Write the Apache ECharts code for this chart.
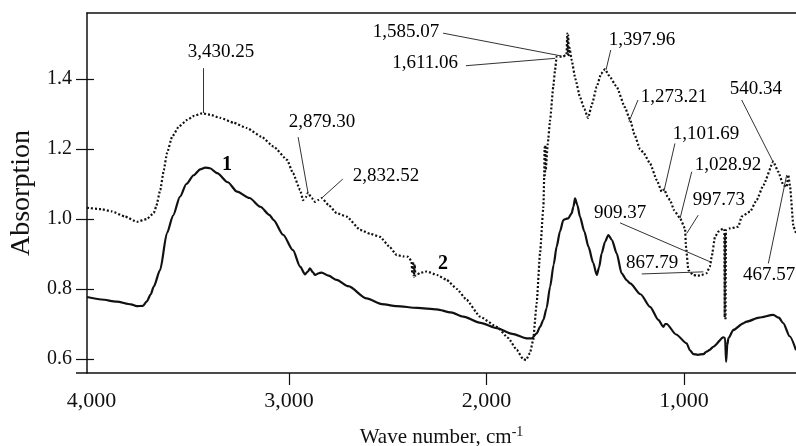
<!DOCTYPE html>
<html>
<head>
<meta charset="utf-8">
<script src="https://cdn.jsdelivr.net/npm/echarts@6/dist/echarts.min.js"></script>
<style>html,body{margin:0;padding:0;background:#fff;}#c{width:796px;height:446px;}</style>
</head>
<body>
<div id="c"></div>
<script>
// ---- data ----
const waveSolid = [4023,3950,3873,3800,3771,3740,3720,3700,3685,3653,3618,3587,3552,3520,3483,3450,3424,3400,3364,3310,3263,3200,3145,3100,3078,3030,2980,2944,2919,2905,2894,2880,2868,2850,2835,2800,2759,2700,2607,2530,2455,2350,2252,2180,2118,2030,1948,1870,1797,1771,1746,1729,1712,1696,1678,1660,1645,1628,1611,1600,1586,1569,1560,1552,1540,1527,1505,1484,1460,1442,1430,1417,1400,1383,1365,1341,1316,1290,1273,1220,1172,1130,1105,1095,1088,1040,987,970,953,930,902,886,870,852,801,792,787,781,775,750,700,683,620,548,520,497,465,433];
const absSolid = [0.777,0.770,0.764,0.756,0.751,0.752,0.765,0.785,0.807,0.854,0.960,1.010,1.064,1.100,1.125,1.142,1.147,1.145,1.131,1.105,1.078,1.060,1.035,1.012,0.997,0.955,0.911,0.864,0.842,0.850,0.859,0.848,0.840,0.845,0.847,0.838,0.826,0.808,0.773,0.757,0.751,0.746,0.742,0.733,0.721,0.703,0.688,0.672,0.659,0.659,0.673,0.692,0.712,0.745,0.807,0.870,0.921,0.965,0.997,1.000,1.002,1.016,1.035,1.059,1.040,1.007,0.965,0.921,0.875,0.840,0.862,0.902,0.935,0.954,0.940,0.902,0.845,0.825,0.816,0.785,0.749,0.712,0.692,0.700,0.700,0.670,0.645,0.625,0.614,0.612,0.614,0.621,0.626,0.635,0.662,0.660,0.592,0.640,0.660,0.683,0.702,0.707,0.718,0.726,0.718,0.702,0.665,0.625];

const waveDotted = [4023,3950,3900,3830,3770,3720,3685,3673,3652,3634,3618,3592,3558,3516,3480,3440,3400,3349,3280,3213,3140,3078,3010,2980,2944,2929,2915,2904,2885,2868,2850,2834,2800,2759,2708,2640,2590,2539,2490,2455,2420,2397,2380,2376,2372,2368,2364,2360,2350,2337,2303,2250,2202,2150,2101,2033,1948,1890,1847,1815,1800,1780,1764,1746,1729,1712,1708,1706,1704,1702,1700,1690,1678,1662,1653,1645,1630,1613,1595,1591,1588,1586,1584,1580,1569,1550,1527,1505,1486,1465,1442,1420,1400,1380,1341,1300,1273,1250,1223,1206,1172,1138,1113,1100,1085,1071,1050,1020,995,990,978,953,930,911,886,869,860,843,826,801,796,794,792,790,788,767,725,708,666,632,598,548,523,497,480,472,463,446,433];
const absDotted = [1.032,1.028,1.022,1.007,0.992,1.000,1.017,1.035,1.083,1.140,1.188,1.235,1.264,1.283,1.295,1.302,1.298,1.289,1.275,1.260,1.235,1.207,1.169,1.131,1.083,1.054,1.062,1.075,1.060,1.049,1.055,1.060,1.040,1.017,1.007,0.969,0.958,0.949,0.920,0.897,0.893,0.892,0.880,0.845,0.878,0.835,0.870,0.838,0.842,0.846,0.850,0.840,0.826,0.800,0.769,0.721,0.692,0.660,0.626,0.600,0.597,0.617,0.654,0.760,0.903,1.035,1.120,1.205,1.125,1.210,1.140,1.215,1.283,1.378,1.426,1.464,1.464,1.464,1.470,1.530,1.470,1.525,1.468,1.490,1.454,1.400,1.349,1.315,1.289,1.330,1.378,1.415,1.428,1.410,1.378,1.320,1.283,1.240,1.200,1.190,1.159,1.111,1.078,1.085,1.065,1.054,1.025,1.002,0.973,0.921,0.854,0.840,0.838,0.840,0.845,0.864,0.892,0.949,0.964,0.973,0.970,0.720,0.960,0.711,0.968,0.973,0.978,1.007,1.021,1.054,1.097,1.164,1.135,1.097,1.092,1.126,1.092,0.978,0.960];

const xTickValues = [1000, 2000, 3000];
const xLabelValues = [1000, 2000, 3000, 4000];
const yTickValues = [0.6, 0.8, 1.0, 1.2, 1.4];

// peak annotations (text, label position, leader start, leader end) in data units
const annoTexts = ['3,430.25','1,585.07','1,611.06','2,879.30','2,832.52','1,397.96','1,273.21','540.34','1,101.69','1,028.92','997.73','909.37','867.79','467.57'];
const annoLabelAt = [[3344,1.477],[2408,1.534],[2311,1.446],[2833,1.277],[2509,1.123],[1213,1.511],[1051,1.349],[636,1.371],[889,1.243],[777,1.154],[823,1.054],[1324,1.018],[1162,0.875],[569,0.840]];
const annoFrom = [[3435,1.431],[2220,1.531],[2104,1.438],[2954,1.234],[2728,1.114],[1371,1.483],[1233,1.340],[708,1.340],[1046,1.216],[961,1.135],[928,1.011],[1324,0.989],[1214,0.843],[573,0.873]];
const annoTo = [[3435,1.303],[1623,1.466],[1653,1.459],[2904,1.075],[2834,1.060],[1395,1.426],[1279,1.278],[548,1.162],[1101,1.081],[1020,1.002],[986,0.959],[869,0.878],[902,0.849],[480,1.126]];
const curveNames = ['1', '2'];
const curveLabelAt = [[3314,1.154],[2220,0.871]];

// ---- chart ----
const FONT = '"Liberation Serif", "Times New Roman", serif';
const INK = '#111';
const X_MIN = 433, X_MAX = 4023, Y_MIN = 0.56, Y_MAX = 1.5886;

const solidData = waveSolid.map((w, i) => [w, absSolid[i]]);
const dottedData = waveDotted.map((w, i) => [w, absDotted[i]]);
const annoLabelData = annoTexts.map((t, i) => [annoLabelAt[i][0], annoLabelAt[i][1], t]);
const leaderData = annoTexts.map((t, i) => ({coords: [annoFrom[i], annoTo[i]]}));
const curveLabelData = curveNames.map((t, i) => [curveLabelAt[i][0], curveLabelAt[i][1], t]);

const chart = echarts.init(document.getElementById('c'), null, {renderer: 'canvas'});
chart.setOption({
  backgroundColor: '#fff',
  animation: false,
  grid: {left: 87, top: 13, right: 0, bottom: 73, containLabel: false, outerBoundsMode: 'none'},
  xAxis: [{
    type: 'value', inverse: true, min: X_MIN, max: X_MAX, position: 'bottom',
    axisLine: {show: true, lineStyle: {color: INK, width: 1.5}},
    axisTick: {show: true, customValues: xTickValues, length: 12, lineStyle: {color: INK, width: 1.2}},
    axisLabel: {customValues: xLabelValues, formatter: v => Number(v).toLocaleString('en-US'),
      fontFamily: FONT, fontSize: 22, color: INK, margin: 17},
    splitLine: {show: false},
    name: 'Wave number, cm{s|-1}', nameLocation: 'middle', nameGap: 52,
    nameTextStyle: {fontFamily: FONT, fontSize: 21, color: INK,
      rich: {s: {fontFamily: FONT, fontSize: 14, color: INK, verticalAlign: 'top', lineHeight: 24}}}
  }, {
    type: 'value', inverse: true, min: X_MIN, max: X_MAX, position: 'top',
    axisLine: {show: true, lineStyle: {color: INK, width: 1.5}},
    axisTick: {show: false}, axisLabel: {show: false}, splitLine: {show: false}
  }],
  yAxis: [{
    type: 'value', min: Y_MIN, max: Y_MAX, position: 'left',
    axisLine: {show: true, lineStyle: {color: INK, width: 1.5}},
    axisTick: {show: true, customValues: yTickValues, length: 11, lineStyle: {color: INK, width: 1.2}},
    axisLabel: {customValues: yTickValues, formatter: v => Number(v).toFixed(1),
      fontFamily: FONT, fontSize: 20, color: INK, margin: 15},
    splitLine: {show: false},
    name: 'Absorption', nameLocation: 'middle', nameGap: 51,
    nameTextStyle: {fontFamily: FONT, fontSize: 28, color: INK}
  }, {
    type: 'value', min: Y_MIN, max: Y_MAX, position: 'left',
    axisLine: {show: false},
    axisTick: {show: true, inside: true, customValues: yTickValues, length: 7, lineStyle: {color: INK, width: 1.2}},
    axisLabel: {show: false}, splitLine: {show: false}
  }],
  graphic: [{
    type: 'line', shape: {x1: 76, y1: 373, x2: 87, y2: 373},
    style: {stroke: INK, lineWidth: 1.5}, silent: true
  }],
  series: [{
    name: 'Curve 1', type: 'line', data: solidData, showSymbol: false, symbol: 'none',
    smooth: 0.25, smoothMonotone: 'x',
    lineStyle: {color: INK, width: 2.2, type: 'solid'}, silent: true, z: 3
  }, {
    name: 'Curve 2', type: 'line', data: dottedData, showSymbol: false, symbol: 'none',
    smooth: 0.15, smoothMonotone: 'x',
    lineStyle: {color: INK, width: 2.2, type: [2, 2]}, silent: true, z: 3
  }, {
    name: 'Leaders', type: 'lines', coordinateSystem: 'cartesian2d', polyline: false,
    data: leaderData, symbol: ['none', 'none'],
    lineStyle: {color: '#333', width: 1, opacity: 1, curveness: 0}, silent: true, z: 4
  }, {
    name: 'Peak labels', type: 'scatter', data: annoLabelData, symbolSize: 0, silent: true, z: 5,
    itemStyle: {opacity: 1},
    label: {show: true, position: 'inside', formatter: p => p.value[2],
      fontFamily: FONT, fontSize: 19, color: '#000'}
  }, {
    name: 'Curve labels', type: 'scatter', data: curveLabelData, symbolSize: 0, silent: true, z: 5,
    itemStyle: {opacity: 1},
    label: {show: true, position: 'inside', formatter: p => p.value[2],
      fontFamily: FONT, fontSize: 20, fontWeight: 'bold', color: '#000'}
  }]
});
</script>
</body>
</html>
